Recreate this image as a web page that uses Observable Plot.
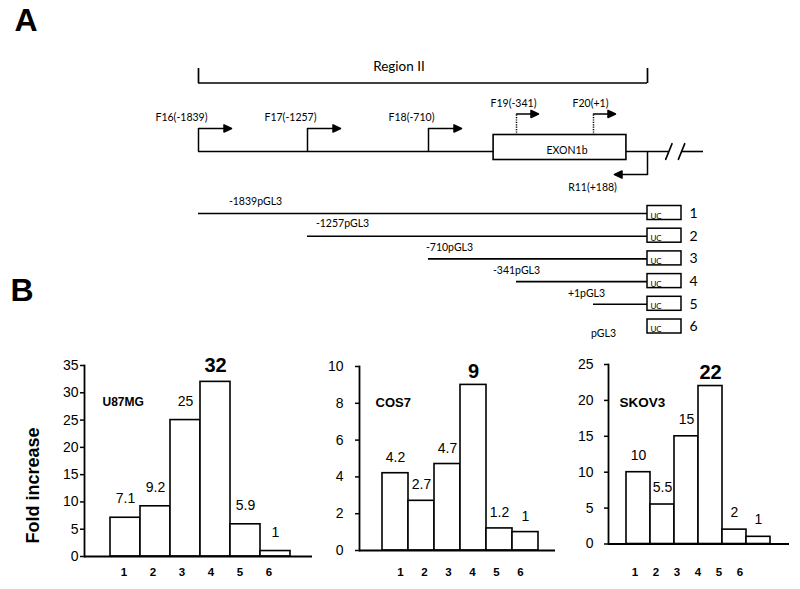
<!DOCTYPE html>
<html><head><meta charset="utf-8">
<script src="https://cdn.jsdelivr.net/npm/d3@7"></script>
<script src="https://cdn.jsdelivr.net/npm/@observablehq/plot@0.6"></script>
<style>
body{margin:0;background:#fff}
#fig{position:relative;width:800px;height:589px;overflow:hidden;background:#fff}
#fig svg{position:absolute;overflow:visible;background:transparent}
</style></head><body><div id="fig"></div>
<script>
// ---------- Panel A data ----------
const panelLabels = ["A", "B"];
const regionName = "Region II";
const regionSpan = [-1839, 188];
const primerNames = ["F16", "F17", "F18", "F19", "F20", "R11"];
const primerPos = [-1839, -1257, -710, -341, 1, 188];
const primerStrand = ["+", "+", "+", "+", "+", "-"];
const primerInExon = [false, false, false, true, true, false];
const exonName = "EXON1b";
const exonSpan = [-437, 115];
const geneLineEnd = 382;
const breakMarks = [262, 306];
const constructIds = [1, 2, 3, 4, 5, 6];
const constructNames = ["-1839pGL3", "-1257pGL3", "-710pGL3", "-341pGL3", "+1pGL3", "pGL3"];
const constructStart = [-1839, -1257, -710, -341, 1, null];
const constructEnd = 188;
const reporterLabel = "UC";

// ---------- Panel B data ----------
const cellLines = ["U87MG", "COS7", "SKOV3"];
const u87mgFold = [7.1, 9.2, 25, 32, 5.9, 1];
const cos7Fold = [4.2, 2.7, 4.7, 9, 1.2, 1];
const skov3Fold = [10, 5.5, 15, 22, 2, 1];
const u87mgTicks = [0, 5, 10, 15, 20, 25, 30, 35];
const cos7Ticks = [0, 2, 4, 6, 8, 10];
const skov3Ticks = [0, 5, 10, 15, 20, 25];
const yLabel = "Fold increase";

// ---------- layout (pixels) ----------
const fig = document.getElementById("fig");
const FA = "Lato, 'Open Sans', sans-serif";
const FB = "'Liberation Sans', Arial, sans-serif";
const place = (svg, left, top) => { svg.style.left = left + "px"; svg.style.top = top + "px"; fig.appendChild(svg); return svg; };

const lineShape = {draw(ctx, l) { ctx.moveTo(0, 0); ctx.lineTo(0, -l); }};
const arrowShape = {draw(ctx, l) {
  ctx.moveTo(0, 0); ctx.lineTo(0, -l + 7);
  ctx.moveTo(0, -l); ctx.lineTo(-3.6, -l + 7.5); ctx.lineTo(3.6, -l + 7.5); ctx.closePath();
}};

const primers = primerNames.map((n, i) => ({
  name: n, pos: primerPos[i], strand: primerStrand[i], inExon: primerInExon[i],
  label: `${n}(${primerPos[i] > 0 ? "+" : ""}${primerPos[i]})`
}));
const fwdGene = primers.filter(p => p.strand === "+" && !p.inExon);
const fwdExon = primers.filter(p => p.strand === "+" && p.inExon);
const rev = primers.filter(p => p.strand === "-");
const constructs = constructIds.map((id, i) => ({id, name: constructNames[i], start: constructStart[i]}));
const withInsert = constructs.filter(c => c.start !== null);
const labelDx = [57, 35, 21, 0, -7, -44];
const labelDy = [-12, -13, -11, -11, -11, 6.5];
const arrowStyle = {shape: arrowShape, fill: "black", stroke: "black", strokeWidth: 1.5, anchor: "start"};

const panelA = Plot.plot({
  width: 800, height: 340, margin: 0,
  style: {fontFamily: FA, fontSize: "10.5px", color: "black"},
  x: {type: "linear", domain: [...primerPos].sort((a, b) => a - b), range: [198, 307, 428, 516, 593, 647], axis: null},
  y: {type: "linear", domain: [0, 1, 6], range: [151, 213, 326.5], axis: null},
  marks: [
    // panel letters
    Plot.text([panelLabels[0]], {frameAnchor: "top-left", textAnchor: "start", lineAnchor: "top", dx: 14, dy: 8, fontSize: 32, fontWeight: "bold", fontFamily: FB}),
    Plot.text([panelLabels[1]], {frameAnchor: "top-left", textAnchor: "start", lineAnchor: "top", dx: 10, dy: 278, fontSize: 32, fontWeight: "bold", fontFamily: FB}),
    // region bracket
    Plot.ruleY([regionSpan], {x1: d => d[0], x2: d => d[1], y: 0, dy: -68.5, strokeWidth: 1.7}),
    Plot.vector(regionSpan, {x: d => d, y: 0, dy: -68.5, length: 15, rotate: 0, anchor: "start", shape: lineShape, strokeWidth: 1.7, strokeLinecap: "butt"}),
    Plot.text([regionName], {x: (regionSpan[0] + regionSpan[1]) / 2, y: 0, dx: -4, dy: -84.5, fontSize: 13.5}),
    // gene line with break
    Plot.ruleY([[regionSpan[0], breakMarks[0]], [breakMarks[1], geneLineEnd]], {x1: d => d[0], x2: d => d[1], y: 0, strokeWidth: 1.6}),
    Plot.vector(breakMarks, {x: d => d, y: 0, length: 17, rotate: 22, anchor: "middle", shape: lineShape, strokeWidth: 1.6}),
    // exon
    Plot.rect([exonSpan], {x1: d => d[0], x2: d => d[1], y1: 0, y2: 0, insetTop: -16.5, insetBottom: -8.5, fill: "white", stroke: "black", strokeWidth: 1.6}),
    Plot.text([exonName], {x: (exonSpan[0] + exonSpan[1]) / 2, y: 0, dx: 10, dy: -1, fontSize: 10.5}),
    // forward primers on the promoter line
    Plot.vector(fwdGene, {x: "pos", y: 0, length: 23, rotate: 0, anchor: "start", shape: lineShape, strokeWidth: 1.5, strokeLinecap: "butt"}),
    Plot.vector(fwdGene, {x: "pos", y: 0, dy: -23, length: 33, rotate: 90, ...arrowStyle}),
    Plot.text(fwdGene, {x: "pos", y: 0, text: "label", dx: -17, dy: -34}),
    // forward primers inside exon (dotted)
    Plot.vector(fwdExon, {x: "pos", y: 0, dy: -16.5, length: 21, rotate: 0, anchor: "start", shape: lineShape, strokeWidth: 1.5, strokeDasharray: "1.2 1.2", strokeLinecap: "butt"}),
    Plot.vector(fwdExon, {x: "pos", y: 0, dy: -37.5, length: 22, rotate: 90, ...arrowStyle}),
    Plot.text(fwdExon, {x: "pos", y: 0, text: "label", dx: -3, dy: -48}),
    // reverse primer
    Plot.vector(rev, {x: "pos", y: 0, length: 23, rotate: 180, anchor: "start", shape: lineShape, strokeWidth: 1.5, strokeLinecap: "butt"}),
    Plot.vector(rev, {x: "pos", y: 0, dy: 23, length: 33, rotate: -90, ...arrowStyle}),
    Plot.text(rev, {x: "pos", y: 0, text: "label", dx: -55, dy: 36}),
    // constructs
    Plot.ruleY(withInsert, {x1: "start", x2: constructEnd, y: "id", strokeWidth: 1.6}),
    Plot.rect(constructs, {x1: constructEnd, x2: constructEnd, y1: "id", y2: "id", insetRight: -34, insetTop: -7.5, insetBottom: -6.5, fill: "white", stroke: "black", strokeWidth: 1.5}),
    Plot.text(constructs, {x: constructEnd, y: "id", text: () => reporterLabel, dx: 8.5, dy: 2.5, fontSize: 8}),
    Plot.text(constructs, {x: constructEnd, y: "id", text: "id", dx: 46, fontSize: 14}),
    ...constructs.map((c, i) => Plot.text([c], {x: d => d.start ?? constructEnd, y: "id", text: "name", dx: labelDx[i], dy: labelDy[i], fontSize: 10.5}))
  ]
});
place(panelA, 0, 0);

// ---------- Panel B ----------
const charts = [
  {name: cellLines[0], values: u87mgFold, ticks: u87mgTicks, left: 0, w: 320, frameL: 84, frameR: 312, frameT: 365, frameB: 556,
   barL: 109, barR: 290, labL: 107, labR: 285, tickPad: 2, titleDx: 18, titleDy: 37, titleSize: 12, valDy: -19, maxDy: -16, ylabel: true},
  {name: cellLines[1], values: cos7Fold, ticks: cos7Ticks, left: 320, w: 250, frameL: 359, frameR: 555, frameT: 366, frameB: 550,
   barL: 379, barR: 540, labL: 387, labR: 533, tickPad: 12, titleDx: 16, titleDy: 36, titleSize: 13, valDy: -16, maxDy: -13},
  {name: cellLines[2], values: skov3Fold, ticks: skov3Ticks, left: 570, w: 230, frameL: 608, frameR: 789, frameT: 364, frameB: 543.5,
   barL: 625, barR: 770, labL: 622, labR: 752, tickPad: 11, titleDx: 11, titleDy: 38, titleSize: 13.5, valDy: -17, maxDy: -13}
];
const TOP = 340, H = 249;
for (const c of charts) {
  const data = constructIds.map((id, i) => ({id, value: c.values[i]}));
  const max = d3.max(c.values);
  const marks = [
    Plot.barY(data, {x: "id", y: "value", fill: "white", stroke: "black", strokeWidth: 1.6}),
    Plot.ruleY([0], {strokeWidth: 1.8}),
    Plot.frame({anchor: "left", strokeWidth: 1.8}),
    Plot.axisY({ticks: c.ticks, tickSize: 4, tickPadding: c.tickPad, fontSize: 14, label: null, strokeWidth: 1.5}),
    Plot.text(data.filter(d => d.value !== max), {x: "id", y: "value", text: d => String(d.value), dy: c.valDy, fontSize: 14}),
    Plot.text(data.filter(d => d.value === max), {x: "id", y: "value", text: d => String(d.value), dy: c.maxDy, fontSize: 20, fontWeight: "bold"}),
    Plot.text([c.name], {frameAnchor: "top-left", dx: c.titleDx, dy: c.titleDy, textAnchor: "start", lineAnchor: "middle", fontWeight: "bold", fontSize: c.titleSize})
  ];
  if (c.ylabel) marks.push(Plot.text([yLabel], {frameAnchor: "left", textAnchor: "middle", lineAnchor: "middle", rotate: -90, dx: -51, dy: 24.5, fontWeight: "bold", fontSize: 18}));
  const svg = Plot.plot({
    width: c.w, height: H,
    marginLeft: c.frameL - c.left, marginRight: c.left + c.w - c.frameR,
    marginTop: c.frameT - TOP, marginBottom: TOP + H - c.frameB,
    style: {fontFamily: FB, color: "black"},
    x: {type: "band", domain: constructIds, range: [c.barL - c.left, c.barR - c.left], padding: 0, axis: null},
    y: {domain: [0, d3.max(c.ticks)], axis: null},
    marks
  });
  place(svg, c.left, TOP);
  // construct number labels under the bars
  const lab = Plot.plot({
    width: c.w, height: 20, margin: 0,
    style: {fontFamily: FB, color: "black"},
    x: {type: "band", domain: constructIds, range: [c.labL - c.left, c.labR - c.left], padding: 0, axis: null},
    marks: [Plot.text(constructIds, {x: d => d, frameAnchor: "middle", text: d => String(d), fontWeight: "bold", fontSize: 11.5})]
  });
  place(lab, c.left, 562);
}
</script></body></html>
